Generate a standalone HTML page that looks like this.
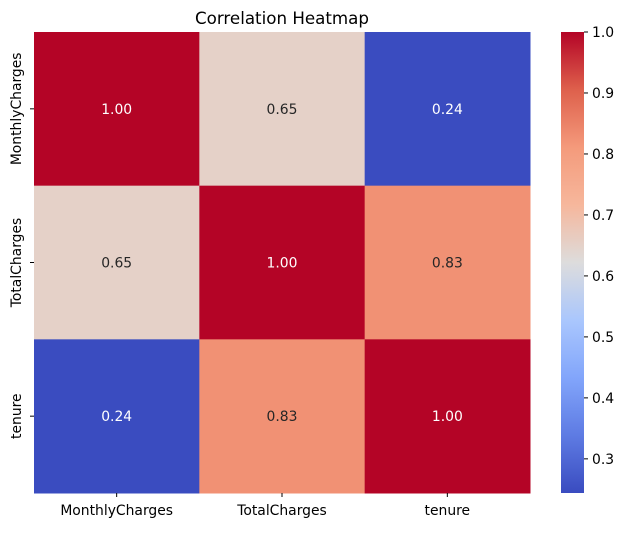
<!DOCTYPE html>
<html><head><meta charset="utf-8"><style>
body{margin:0;background:#fff;}
svg text{font-family:"DejaVu Sans","Liberation Sans",sans-serif;}
</style></head><body>
<svg id="c" width="625" height="528" xmlns="http://www.w3.org/2000/svg">
<defs><linearGradient id="cg" x1="0" y1="1" x2="0" y2="0"></linearGradient></defs>
<text x="282" y="24" text-anchor="middle" font-size="16.7" fill="#000">Correlation Heatmap</text>
<g id="cells"></g>
<g id="axes"></g>
<rect x="561" y="32" width="23" height="461" fill="url(#cg)"/>
<g id="cbticks"></g>
</svg>
<script>
const labels = ["MonthlyCharges","TotalCharges","tenure"];
const row0 = [1.00, 0.651, 0.244];
const row1 = [0.651, 1.00, 0.826];
const row2 = [0.244, 0.826, 1.00];
const cbTicks = [0.3,0.4,0.5,0.6,0.7,0.8,0.9,1.0];
const matrix=[row0,row1,row2];
const vmin=Math.min(...matrix.flat()), vmax=Math.max(...matrix.flat());
const X0=34,X1=530,Y0=32,Y1=493;
const cw=(X1-X0)/labels.length, ch=(Y1-Y0)/labels.length;
const stops=[[58,76,192],[94,123,227],[130,165,251],[170,199,253],[221,220,220],[246,183,156],[244,154,123],[222,96,76],[180,4,38]];
function cmap(t){t=Math.max(0,Math.min(1,t));const p=t*8,i=Math.min(7,Math.floor(p)),f=p-i;const a=stops[i],b=stops[i+1];
return `rgb(${a.map((v,k)=>Math.round(v+(b[k]-v)*f)).join(',')})`;}
const NS="http://www.w3.org/2000/svg";
function mk(tag,attrs,parent){const e=document.createElementNS(NS,tag);for(const k in attrs)e.setAttribute(k,attrs[k]);parent.appendChild(e);return e;}
const cells=document.getElementById('cells'), axes=document.getElementById('axes');
const FS=13.9;
matrix.forEach((row,r)=>row.forEach((v,c)=>{
 const t=(v-vmin)/(vmax-vmin);
 const rc=mk('rect',{x:X0+c*cw,y:Y0+r*ch,width:cw+0.5,height:ch+0.5,fill:cmap(t)},cells);
 
 
 const tx=mk('text',{x:X0+(c+0.5)*cw,y:Y0+(r+0.5)*ch+5,'text-anchor':'middle','font-size':FS,fill:(t<0.3||t>0.85)?'#fff':'#262626'},cells);
 tx.textContent=v.toFixed(2);
 
 
}));
labels.forEach((l,i)=>{
 const cx=X0+(i+0.5)*cw;
 mk('line',{x1:cx,x2:cx,y1:Y1,y2:Y1+4,stroke:'#000'},axes);
 const t=mk('text',{x:cx,y:Y1+22,'text-anchor':'middle','font-size':FS},axes);t.textContent=l;
 
 
 const cy=Y0+(i+0.5)*ch;
 mk('line',{x1:X0-4,x2:X0,y1:cy,y2:cy,stroke:'#000'},axes);
 const ty=mk('text',{x:0,y:0,'text-anchor':'middle','font-size':FS,transform:`translate(21,${cy}) rotate(-90)`},axes);ty.textContent=l;
 
 
});
const g=document.getElementById('cg');
for(let i=0;i<=40;i++){mk('stop',{offset:(i/40),'stop-color':cmap(i/40)},g);}
const cb=document.getElementById('cbticks');
cbTicks.forEach(v=>{
 const y=Y1-(v-vmin)/(vmax-vmin)*(Y1-Y0);
 mk('line',{x1:584,x2:588,y1:y,y2:y,stroke:'#000'},cb);
 const t=mk('text',{x:592,y:y+5,'font-size':FS},cb);t.textContent=v.toFixed(1);
 
 
});
</script>
</body></html>
